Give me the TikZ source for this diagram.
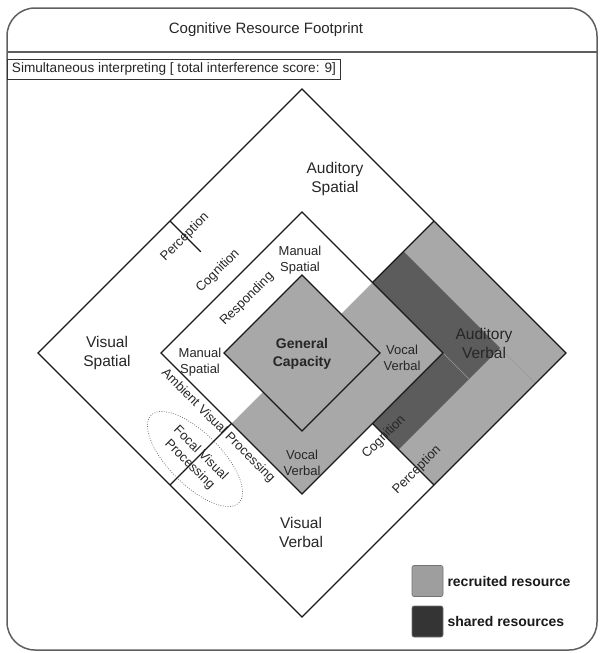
\documentclass[tikz,border=0pt]{standalone}
\usepackage{fontspec}
\setmainfont{Liberation Sans}
\usetikzlibrary{calc,shapes.geometric}
\definecolor{recruit}{RGB}{168,168,168}
\definecolor{shared}{RGB}{92,92,92}
\definecolor{legrecruit}{RGB}{158,158,158}
\definecolor{legshared}{RGB}{52,52,52}
\definecolor{framegray}{RGB}{95,95,95}
\newcommand{\fsz}[2]{\fontsize{#1}{#2}\selectfont}
\begin{document}
\begin{tikzpicture}[x=1pt, y=-1pt,
    every node/.style={font=\fsz{15.5}{19}, text=black!85, align=center, inner sep=1pt},
    small/.style={font=\fsz{13}{15.5}},
    band/.style={small, rotate=45},
    edge/.style={draw=black!90, line width=1.3pt, line join=miter},
    seam/.style={draw=black!40, line width=0.4pt},
    legbox/.style={draw=black!55, line width=0.6pt, rounded corners=2pt,
                   minimum size=31pt, inner sep=0pt},
    legtext/.style={font=\bfseries\fsz{14}{17}, text=black!90, anchor=west},
  ]
  \useasboundingbox (0,0) rectangle (601,653);

  % frame and title
  \draw[framegray, line width=1.5pt, rounded corners=28pt] (7,8) rectangle (597,650);
  \draw[framegray, line width=1.2pt] (7,52) -- (597,52);
  \node[font=\fsz{15}{18}] (title) at (266,30) {Cognitive Resource Footprint};
  \node[draw=black!80, line width=0.9pt, anchor=north west, font=\fsz{13.6}{16},
        inner xsep=4.5pt, minimum height=20pt]
    (task) at (7,59) {Simultaneous interpreting [ total interference score: 9]};

  % diamonds: outer, middle, inner
  \coordinate (c) at (302,353);
  \foreach \n/\d in {o/264,m/141,i/78} {
    \coordinate (\n-t) at ($(c)+(0,-\d)$);
    \coordinate (\n-r) at ($(c)+(\d,0)$);
    \coordinate (\n-b) at ($(c)+(0,\d)$);
    \coordinate (\n-l) at ($(c)+(-\d,0)$);
    \coordinate (\n-ur) at ($(\n-t)!.5!(\n-r)$);
    \coordinate (\n-lr) at ($(\n-b)!.5!(\n-r)$);
    \coordinate (\n-ll) at ($(\n-b)!.5!(\n-l)$);
    \coordinate (\n-ul) at ($(\n-t)!.5!(\n-l)$);
  }
  \coordinate (d-u) at (403.5,251.5);
  \coordinate (d-r) at (500,348);
  \coordinate (d-l) at (398.5,449.5);
  \coordinate (s-a) at (469,379);
  \coordinate (s-b) at (535.5,383.5);

  \fill[recruit] (m-ur) -- (o-ur) -- (o-r) -- (o-lr) -- (m-lr) -- (m-b) -- (m-ll) -- cycle;
  \fill[recruit] (i-t) -- (i-r) -- (i-b) -- (i-l) -- cycle;
  \fill[shared] (m-ur) -- (d-u) -- (d-r) -- (d-l) -- (m-lr) -- (m-r) -- cycle;
  \draw[seam] (m-r) -- (s-a);
  \draw[seam] (d-r) -- (s-b);

  \foreach \n in {o,m,i}
    \draw[edge] (\n-t) -- (\n-r) -- (\n-b) -- (\n-l) -- cycle;
  \draw[edge] (m-ur) -- (o-ur);
  \draw[edge] (m-lr) -- (o-lr);
  \draw[edge] (m-ll) -- (o-ll);
  \draw[edge] (o-ul) -- ($(o-ul)!.5!(m-ul)$);

  % region labels
  \node (audsp) at (335,179) {Auditory\\Spatial};
  \node (vissp) at (107,353) {Visual\\Spatial};
  \node (visvb) at (301,532) {Visual\\Verbal};
  \node (audvb) at (484,343) {Auditory\\Verbal};
  \node[small] (mantop) at (300,260) {Manual\\Spatial};
  \node[small] (manleft) at (200,362) {Manual\\Spatial};
  \node[small] (vocright) at (402,358) {Vocal\\Verbal};
  \node[small] (vocbot) at (302,463) {Vocal\\Verbal};
  \node[font=\bfseries\fsz{14}{18}] (gencap) at (302,354) {General\\Capacity};

  % stage labels
  \node[band] (percul) at (185,237) {Perception};
  \node[band] (cogul) at (218,271) {Cognition};
  \node[band] (resp) at (247,299) {Responding};
  \node[band] (coglr) at (384,437) {Cognition};
  \node[band] (perclr) at (417,470) {Perception};
  \node[small, rotate=-45] (ambient) at (218,426) {Ambient Visual Processing};
  \node[ellipse, draw=black!60, dash pattern=on 0.8pt off 1.6pt, line width=0.7pt,
        minimum width=124pt, minimum height=52pt, rotate=-45] (focal) at (195,459) {};
  \node[small, rotate=-45] (focaltxt) at (focal.center) {Focal Visual\\Processing};

  % legend
  \node[legbox, fill=legrecruit] (keyrec) at (427.5,581) {};
  \node[legbox, fill=legshared] (keyshr) at (427.5,621.5) {};
  \node[legtext] (keyrectxt) at ([xshift=3pt]keyrec.east) {recruited resource};
  \node[legtext] (keyshrtxt) at ([xshift=3pt]keyshr.east) {shared resources};
\end{tikzpicture}
\end{document}
